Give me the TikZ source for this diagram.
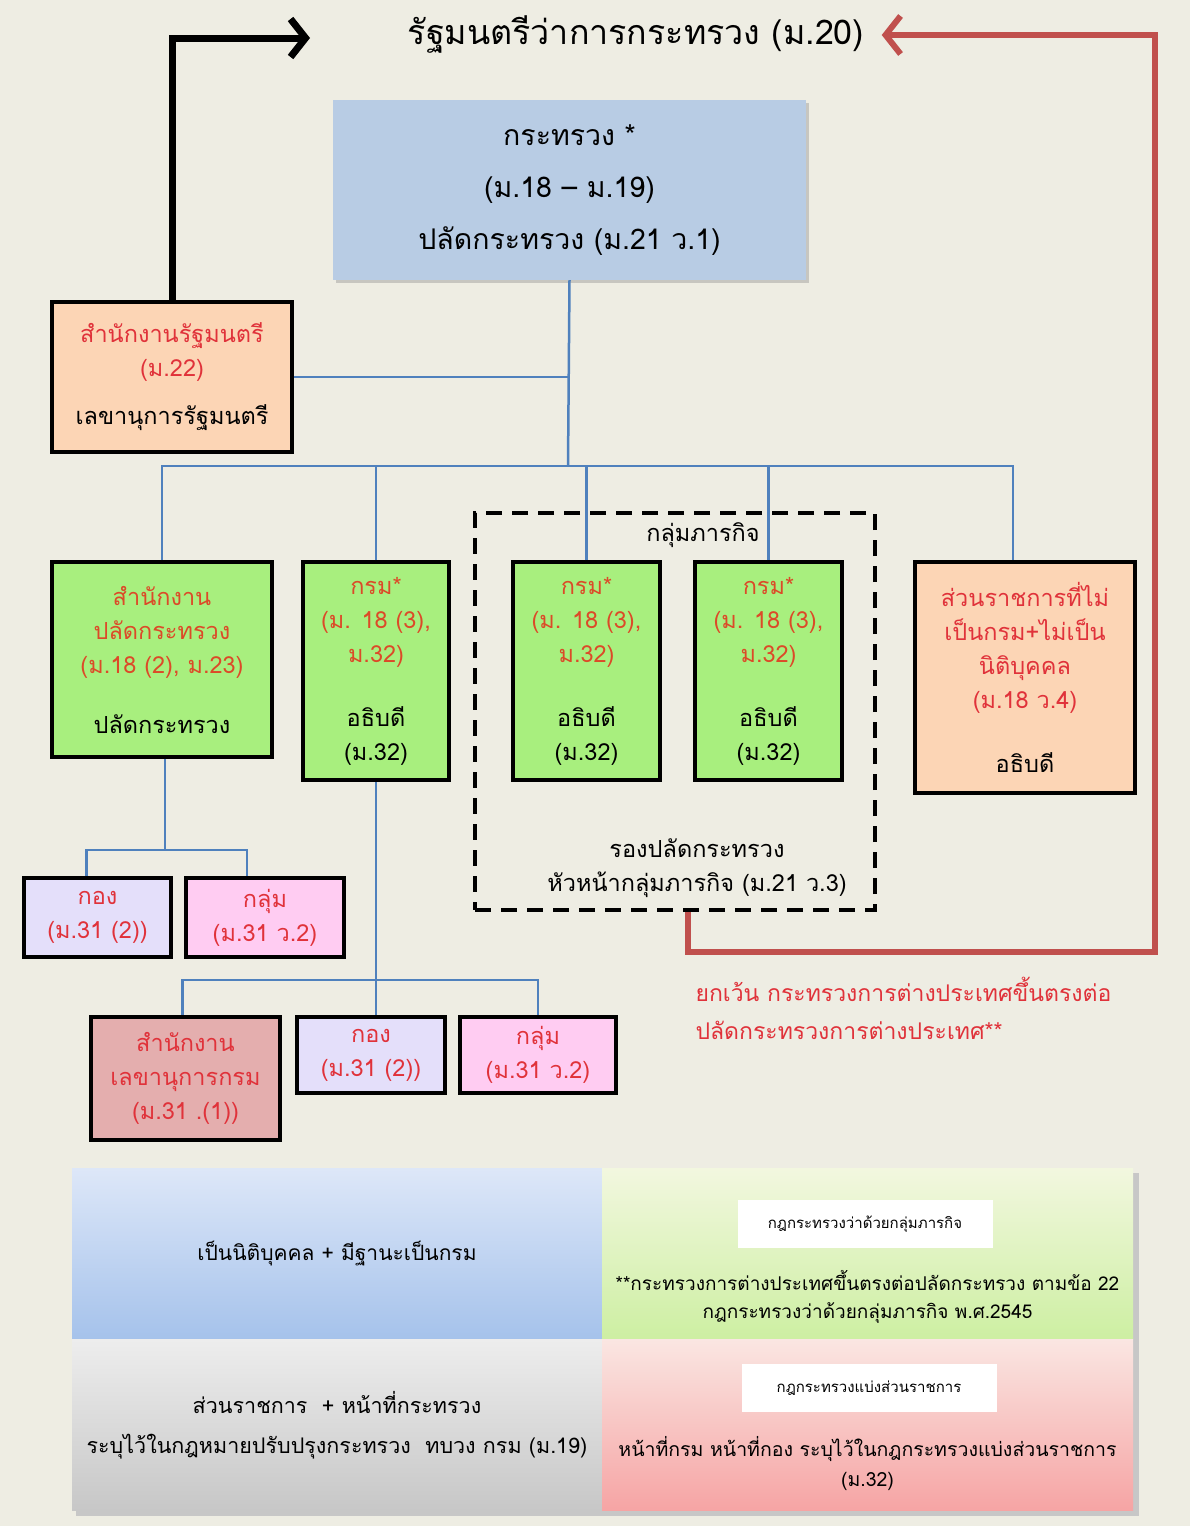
\documentclass[tikz,border=0pt]{standalone}
\usepackage{fontspec}
\setmainfont{Loma}[Script=Thai]
\usepackage{tikz}
\usetikzlibrary{positioning,arrows.meta,shadows}

\definecolor{paper}{HTML}{EEEDE3}
\definecolor{minblue}{HTML}{B8CCE4}
\definecolor{peach}{HTML}{FCD5B5}
\definecolor{leaf}{HTML}{A8EF7E}
\definecolor{lilac}{HTML}{E4DFFA}
\definecolor{pinkish}{HTML}{FFCCF2}
\definecolor{rose}{HTML}{E4AEAE}
\definecolor{linkblue}{HTML}{4F81BD}
\definecolor{arrowred}{HTML}{C0504D}
\definecolor{txtred}{HTML}{E0323A}
\definecolor{txtorange}{HTML}{DC4A28}
\definecolor{bluetop}{HTML}{DDE7F8}
\definecolor{bluebot}{HTML}{A5C2EB}
\definecolor{graytop}{HTML}{EDEDED}
\definecolor{graybot}{HTML}{C7C7C7}
\definecolor{greentop}{HTML}{F2F7DF}
\definecolor{greenbot}{HTML}{CDEFA2}
\definecolor{pinktop}{HTML}{FAE6E2}
\definecolor{pinkbot}{HTML}{F6A4A4}

\newcommand\bxfont{\fontsize{23.5}{34}\selectfont}
\newcommand\lgfont{\fontsize{19.5}{30}\selectfont}
\newcommand\tagfont{\fontsize{15}{20}\selectfont}

\tikzset{
  unitbox/.style={draw=black,line width=4pt,align=center,inner sep=0pt,font=\bxfont},
  link/.style={draw=linkblue,line width=2.5pt},
  panel/.style={minimum width=530,minimum height=171,inner sep=0pt,align=center,font=\lgfont},
  tag/.style={fill=white,minimum width=255,minimum height=48,font=\tagfont}
}

\begin{document}
\begin{tikzpicture}[x=1pt,y=-1pt]
  \useasboundingbox (0,0) rectangle (1190,1526);
  \fill[paper] (0,0) rectangle (1190,1526);

  % minister and ministry
  \node (minister) at (636,35) {\fontsize{34}{36}\selectfont รัฐมนตรีว่าการกระทรวง (ม.20)};
  \node[fill=minblue,minimum width=473,minimum height=180,align=center,inner sep=0pt,
        font=\fontsize{28.5}{52}\selectfont,drop shadow={opacity=0.35}] (ministry) at (569.5,190)
        {กระทรวง *\\(ม.18 – ม.19)\\ปลัดกระทรวง (ม.21 ว.1)};

  \node[unitbox,fill=peach,minimum width=240,minimum height=150] (minOffice) at (172,377)
        {\textcolor{txtred}{สำนักงานรัฐมนตรี}\\\textcolor{txtred}{(ม.22)}\\[14pt]เลขานุการรัฐมนตรี};

  % cluster
  \node[draw=black,dashed,dash pattern=on 16pt off 10pt,line width=4pt,
        minimum width=400,minimum height=397] (cluster) at (675,711.5) {};
  \node[font=\bxfont] (clusterName) at (703,535) {กลุ่มภารกิจ};
  \node[font=\bxfont,align=center] (clusterHead) at (697,868)
        {รองปลัดกระทรวง\\หัวหน้ากลุ่มภารกิจ (ม.21 ว.3)};

  % units
  \node[unitbox,fill=leaf,minimum width=220,minimum height=195] (permOffice) at (162,659.5)
        {\textcolor{txtorange}{สำนักงาน}\\\textcolor{txtorange}{ปลัดกระทรวง}\\\textcolor{txtorange}{(ม.18 (2), ม.23)}\\[26pt]ปลัดกระทรวง};
  \node[unitbox,fill=leaf,minimum width=146,minimum height=218] (dept1) at (376,671)
        {\textcolor{txtorange}{กรม*}\\\textcolor{txtorange}{(ม. 18 (3),}\\\textcolor{txtorange}{ม.32)}\\[30pt]อธิบดี\\(ม.32)};
  \node[unitbox,fill=leaf,minimum width=147,minimum height=218] (dept2) at (586.5,671)
        {\textcolor{txtorange}{กรม*}\\\textcolor{txtorange}{(ม. 18 (3),}\\\textcolor{txtorange}{ม.32)}\\[30pt]อธิบดี\\(ม.32)};
  \node[unitbox,fill=leaf,minimum width=147,minimum height=218] (dept3) at (768.5,671)
        {\textcolor{txtorange}{กรม*}\\\textcolor{txtorange}{(ม. 18 (3),}\\\textcolor{txtorange}{ม.32)}\\[30pt]อธิบดี\\(ม.32)};
  \node[unitbox,fill=peach,minimum width=220,minimum height=231] (nonDept) at (1025,677.5)
        {\textcolor{txtred}{ส่วนราชการที่ไม่}\\\textcolor{txtred}{เป็นกรม+ไม่เป็น}\\\textcolor{txtred}{นิติบุคคล}\\\textcolor{txtred}{(ม.18 ว.4)}\\[30pt]อธิบดี};

  \node[unitbox,fill=lilac,minimum width=147,minimum height=79] (div1) at (97.5,917.5)
        {\textcolor{txtred}{กอง}\\\textcolor{txtred}{(ม.31 (2))}};
  \node[unitbox,fill=pinkish,minimum width=158,minimum height=79] (grp1) at (265,917.5)
        {\textcolor{txtred}{กลุ่ม}\\\textcolor{txtred}{(ม.31 ว.2)}};
  \node[unitbox,fill=rose,minimum width=189,minimum height=123] (secOffice) at (185.5,1078.5)
        {\textcolor{txtred}{สำนักงาน}\\\textcolor{txtred}{เลขานุการกรม}\\\textcolor{txtred}{(ม.31 .(1))}};
  \node[unitbox,fill=lilac,minimum width=148,minimum height=76] (div2) at (371,1055)
        {\textcolor{txtred}{กอง}\\\textcolor{txtred}{(ม.31 (2))}};
  \node[unitbox,fill=pinkish,minimum width=156,minimum height=76] (grp2) at (538,1055)
        {\textcolor{txtred}{กลุ่ม}\\\textcolor{txtred}{(ม.31 ว.2)}};

  % connectors
  \coordinate (hub) at (568,466);
  \coordinate (fork1) at (165,850);
  \coordinate (fork2) at (376,980);
  \draw[link] (ministry.south) -- (hub);
  \draw[link] (minOffice.east) -- (minOffice.east -| hub);
  \draw[link] (permOffice.north) |- (hub) -| ([xshift=-12pt]nonDept.north);
  \draw[link] (dept1.north) -- (dept1.north |- hub);
  \draw[link] (dept2.north) -- (dept2.north |- hub);
  \draw[link] (dept3.north) -- (dept3.north |- hub);
  \draw[link] ([xshift=3pt]permOffice.south) -- (fork1);
  \draw[link] ([xshift=-11pt]div1.north) |- (fork1) -| ([xshift=-18pt]grp1.north);
  \draw[link] (dept1.south) -- (dept1.south |- div2.north);
  \draw[link] ([xshift=-3pt]secOffice.north) |- (fork2) -| (grp2.north);

  % arrows to the minister
  \coordinate (blackTip) at (310,38);
  \coordinate (redCorner) at (1155,952);
  \draw[line width=7pt,-{Straight Barb[length=15pt,width=38pt]}] (minOffice.north) |- (blackTip);
  \draw[arrowred,line width=6pt,-{Straight Barb[length=15pt,width=38pt]},shorten >=14pt]
        ([xshift=13pt]cluster.south) |- (redCorner) |- (minister.east);
  \node[anchor=west,align=left,text=txtred,font=\fontsize{23}{38}\selectfont] (note) at (692,1008)
        {ยกเว้น กระทรวงการต่างประเทศขึ้นตรงต่อ\\ปลัดกระทรวงการต่างประเทศ**};

  % legend
  \fill[black!22] (76,1173) rectangle (1139,1516);
  \node[panel,top color=bluetop,bottom color=bluebot] (legBody) at (337,1254)
        {\fontsize{21}{30}\selectfont เป็นนิติบุคคล + มีฐานะเป็นกรม};
  \node[panel,top color=graytop,bottom color=graybot,font=\fontsize{21.5}{40}\selectfont] (legUnit) at (337,1425)
        {ส่วนราชการ \ + หน้าที่กระทรวง\\ระบุไว้ในกฎหมายปรับปรุงกระทรวง \ ทบวง กรม (ม.19)};
  \node[panel,minimum width=531,top color=greentop,bottom color=greenbot,font=\fontsize{19}{28}\selectfont] (legCluster) at (867.5,1254)
        {\\[78pt]**กระทรวงการต่างประเทศขึ้นตรงต่อปลัดกระทรวง ตามข้อ 22\\กฎกระทรวงว่าด้วยกลุ่มภารกิจ พ.ศ.2545};
  \node[panel,minimum width=531,top color=pinktop,bottom color=pinkbot] (legDiv) at (867.5,1425)
        {\\[68pt]หน้าที่กรม หน้าที่กอง ระบุไว้ในกฎกระทรวงแบ่งส่วนราชการ\\(ม.32)};
  \node[tag] (tagCluster) at (865,1224) {กฎกระทรวงว่าด้วยกลุ่มภารกิจ};
  \node[tag] (tagDiv) at (869,1388) {กฎกระทรวงแบ่งส่วนราชการ};
\end{tikzpicture}
\end{document}
